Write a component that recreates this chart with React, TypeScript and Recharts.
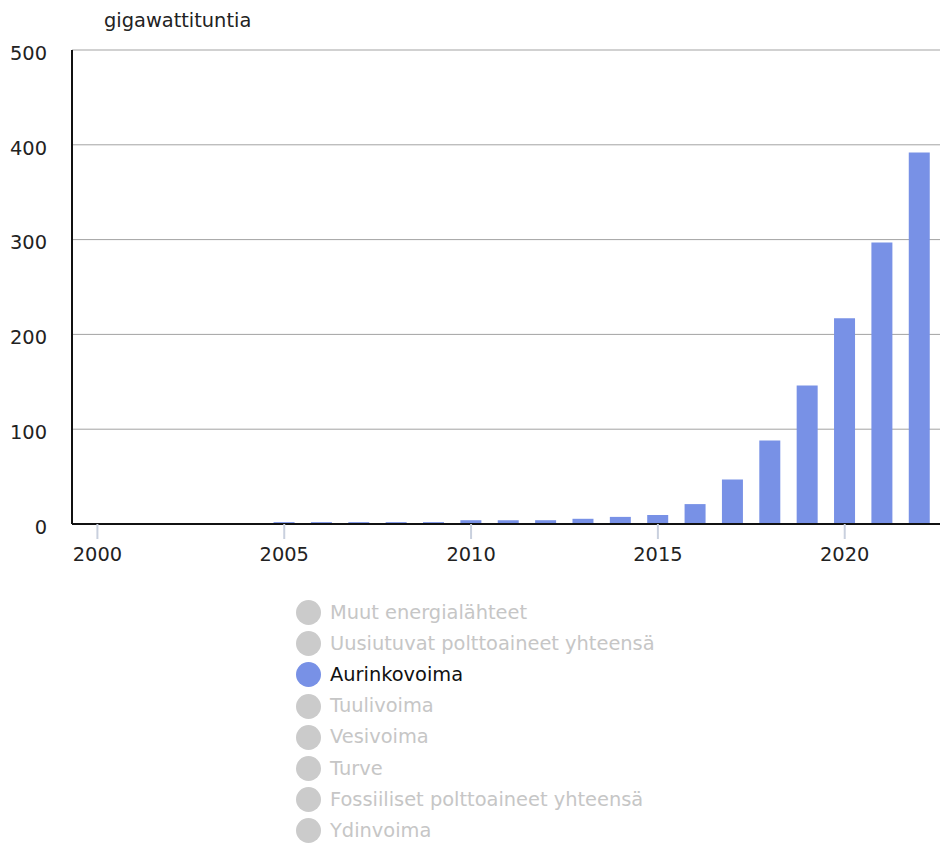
import { Bar, BarChart, CartesianGrid, XAxis, YAxis } from "recharts";

const YEARS = [
  2000, 2001, 2002, 2003, 2004, 2005, 2006, 2007, 2008, 2009, 2010, 2011,
  2012, 2013, 2014, 2015, 2016, 2017, 2018, 2019, 2020, 2021, 2022,
];

// Aurinkovoima, GWh
const SOLAR = [
  0, 0, 0, 0, 0, 2, 2, 2, 2, 2, 4, 4, 4, 5.5, 7.5, 9.5, 21, 47, 88, 146, 217,
  297, 392,
];

const X_TICKS = [2000, 2005, 2010, 2015, 2020];
const Y_TICKS = [0, 100, 200, 300, 400, 500];

const LEGEND_ITEMS = [
  "Muut energialähteet",
  "Uusiutuvat polttoaineet yhteensä",
  "Aurinkovoima",
  "Tuulivoima",
  "Vesivoima",
  "Turve",
  "Fossiiliset polttoaineet yhteensä",
  "Ydinvoima",
];
const ACTIVE = "Aurinkovoima";

const FONT = "'DejaVu Sans', Verdana, sans-serif";
const FS = 19.4;
const BLUE = "#7891e6";

const data = YEARS.map((year, i) => ({ year, value: SOLAR[i] }));

export default function App() {
  return (
    <div
      style={{
        position: "absolute",
        left: 0,
        top: 0,
        width: 940,
        height: 843,
        overflow: "hidden",
        fontFamily: FONT,
        background: "#fff",
      }}
    >
      <div
        style={{
          position: "absolute",
          left: 104,
          top: 9,
          fontSize: FS,
          color: "#222",
          lineHeight: "24px",
        }}
      >
        gigawattituntia
      </div>

      <BarChart
        width={940}
        height={580}
        data={data}
        margin={{ top: 50, right: 0, bottom: 16, left: 0 }}
        style={{ position: "absolute", left: 0, top: 0 }}
      >
        <CartesianGrid vertical={false} stroke="#a3a3a3" />
        <XAxis
          dataKey="year"
          type="number"
          domain={[1999.32, 2022.55]}
          allowDataOverflow
          ticks={X_TICKS}
          height={40}
          axisLine={{ stroke: "#111", strokeWidth: 2 }}
          tickLine={{ stroke: "#c9d0de", strokeWidth: 2 }}
          tickSize={15}
          tickMargin={8}
          tick={{ fill: "#222", fontSize: FS, fontFamily: FONT }}
        />
        <YAxis
          type="number"
          domain={[0, 500]}
          ticks={Y_TICKS}
          width={72}
          axisLine={{ stroke: "#111", strokeWidth: 2 }}
          tickLine={false}
          tickSize={6}
          tickMargin={19}
          tick={{ fill: "#222", fontSize: FS, fontFamily: FONT, dy: 3 }}
        />
        <Bar
          dataKey="value"
          fill={BLUE}
          barSize={21}
          isAnimationActive={false}
        />
      </BarChart>

      <div style={{ position: "absolute", left: 296, top: 597 }}>
        {LEGEND_ITEMS.map((name) => (
          <div
            key={name}
            style={{
              display: "flex",
              alignItems: "center",
              height: 31.2,
            }}
          >
            <span
              style={{
                display: "inline-block",
                width: 25,
                height: 25,
                borderRadius: "50%",
                background: name === ACTIVE ? BLUE : "#cbcbcb",
                marginRight: 9,
              }}
            />
            <span
              style={{
                fontSize: FS,
                lineHeight: "22px",
                color: name === ACTIVE ? "#111" : "#c6c6c6",
              }}
            >
              {name}
            </span>
          </div>
        ))}
      </div>
    </div>
  );
}
